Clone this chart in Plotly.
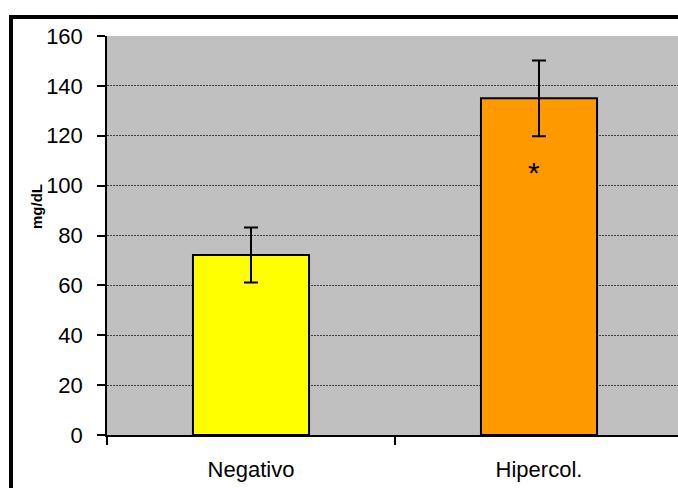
import plotly.graph_objects as go

categories = ["Negativo", "Hipercol."]
values = [72.2, 135.0]
errors = [11.0, 15.2]
bar_colors = ["#FFFF00", "#FF9900"]
y_ticks = [0, 20, 40, 60, 80, 100, 120, 140, 160]
star_label = "*"
star_value = 107
y_title = "mg/dL"

W, H = 678, 488
L, T, B = 107, 36, 53
plot_w = W - L
plot_h = H - T - B

font_family = "Liberation Sans, Arial, sans-serif"

fig = go.Figure()
fig.add_trace(go.Bar(
    x=categories,
    y=values,
    width=0.403,
    marker=dict(color=bar_colors, line=dict(color="black", width=2)),
    error_y=dict(type="data", array=errors, visible=True,
                 color="black", thickness=2, width=7),
    showlegend=False,
    hoverinfo="skip",
))

# right edge of plot area lies slightly outside the window in the reference
x_right = 1.5 - 5 / 288

fig.update_layout(
    width=W, height=H,
    margin=dict(l=L, r=0, t=T, b=B),
    paper_bgcolor="white",
    plot_bgcolor="#C0C0C0",
    font=dict(family=font_family, color="black"),
    xaxis=dict(
        range=[-0.5, x_right],
        showline=True, linecolor="black", linewidth=2,
        ticks="outside", tickson="boundaries", ticklen=8,
        tickcolor="black", tickwidth=1.5,
        tickfont=dict(size=22, family=font_family, color="black"),
        ticklabelstandoff=14,
        showgrid=False,
    ),
    yaxis=dict(
        range=[0, 160],
        tickvals=y_ticks,
        showline=True, linecolor="black", linewidth=1.5,
        ticks="outside", ticklen=8, tickcolor="black", tickwidth=1.5,
        tickfont=dict(size=22, family=font_family, color="black"),
        ticklabelstandoff=10,
        showgrid=True, gridcolor="#404040", gridwidth=1, griddash="2px,1px",
        zeroline=False,
    ),
    shapes=[
        dict(type="rect", xref="paper", yref="paper",
             x0=(11 - L) / plot_w, x1=1.2,
             y0=-0.3, y1=1 + (T - 17) / plot_h,
             line=dict(color="black", width=4), fillcolor="rgba(0,0,0,0)",
             layer="above"),
    ],
    annotations=[
        dict(x=categories[1], y=star_value, xref="x", yref="y",
             text=star_label, showarrow=False, xshift=-5, yshift=-4,
             xanchor="center", yanchor="middle",
             font=dict(size=30, family=font_family, color="black")),
        dict(x=(36 - L) / plot_w, y=(H - B - 207) / plot_h,
             xref="paper", yref="paper", text="<b>" + y_title + "</b>",
             textangle=-90, showarrow=False,
             xanchor="center", yanchor="middle",
             font=dict(size=15, family=font_family, color="black")),
    ],
)

fig.write_html(
    "out.html",
    config={"displayModeBar": False},
    post_script="document.body.style.margin='0';document.body.style.overflow='hidden';",
)
